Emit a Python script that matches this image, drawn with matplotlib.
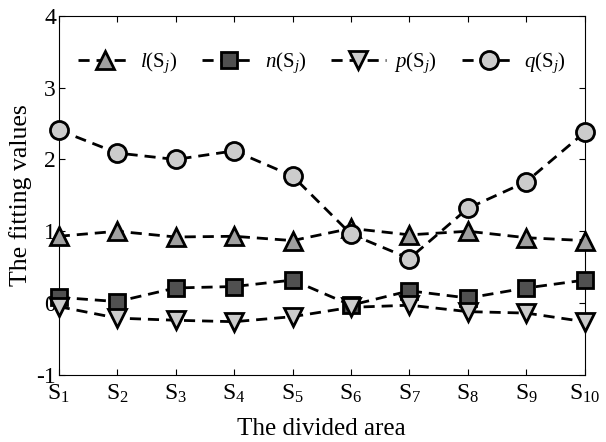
import matplotlib
matplotlib.use("Agg")
import matplotlib.pyplot as plt

plt.rcParams['font.family'] = ['Liberation Serif', 'DejaVu Serif']
plt.rcParams['mathtext.fontset'] = 'custom'
plt.rcParams['mathtext.rm'] = 'Liberation Serif'
plt.rcParams['mathtext.it'] = 'Liberation Serif:italic'
plt.rcParams['axes.unicode_minus'] = False

categories = [r'$\mathrm{S}_{%d}$' % i for i in range(1, 11)]
l_vals = [0.93, 1.00, 0.92, 0.93, 0.87, 1.04, 0.95, 1.00, 0.91, 0.87]
n_vals = [0.08, 0.02, 0.21, 0.23, 0.32, -0.03, 0.17, 0.07, 0.21, 0.32]
p_vals = [-0.05, -0.21, -0.24, -0.26, -0.19, -0.06, -0.03, -0.12, -0.14, -0.26]
q_vals = [2.41, 2.09, 2.00, 2.12, 1.77, 0.96, 0.62, 1.32, 1.69, 2.38]
series_labels = [r'$\mathit{l}(\mathrm{S}_{j})$', r'$\mathit{n}(\mathrm{S}_{j})$',
                 r'$\mathit{p}(\mathrm{S}_{j})$', r'$\mathit{q}(\mathrm{S}_{j})$']

fig = plt.figure(figsize=(6.06, 4.42), dpi=100)
ax = fig.add_axes([0.097, 0.152, 0.868, 0.812])
x = list(range(1, 11))

styles = [
    (l_vals, '^', '#a0a0a0', 13),
    (n_vals, 's', '#505050', 11),
    (p_vals, 'v', '#cccccc', 13),
    (q_vals, 'o', '#cccccc', 13),
]
for (vals, m, fc, ms), lab in zip(styles, series_labels):
    ax.plot(x, vals, linestyle='--', color='black', lw=2, dashes=(4, 2.5),
            marker=m, markerfacecolor=fc, markeredgecolor='black',
            markeredgewidth=2, markersize=ms, label=lab, clip_on=False, zorder=3)

ax.set_xlim(1, 10)
ax.set_ylim(-1, 4)
ax.set_xticks(x)
ax.set_xticklabels(categories, fontsize=17)
ax.set_yticks([-1, 0, 1, 2, 3, 4])
ax.set_yticklabels(['-1', '0', '1', '2', '3', '4'], fontsize=17)
ax.tick_params(direction='in', top=True, right=True, length=4)
ax.tick_params(axis='x', pad=6)
ax.tick_params(axis='y', pad=2)
ax.set_xlabel('The divided area', fontsize=18, labelpad=9)
ax.set_ylabel('The fitting values', fontsize=18.5, labelpad=3)

ax.legend(loc='center', bbox_to_anchor=(0.5, 0.87), ncol=4, frameon=False,
          fontsize=15, handlelength=2.6, columnspacing=1.2, handletextpad=0.4)

fig.savefig('out.png', dpi=100)
